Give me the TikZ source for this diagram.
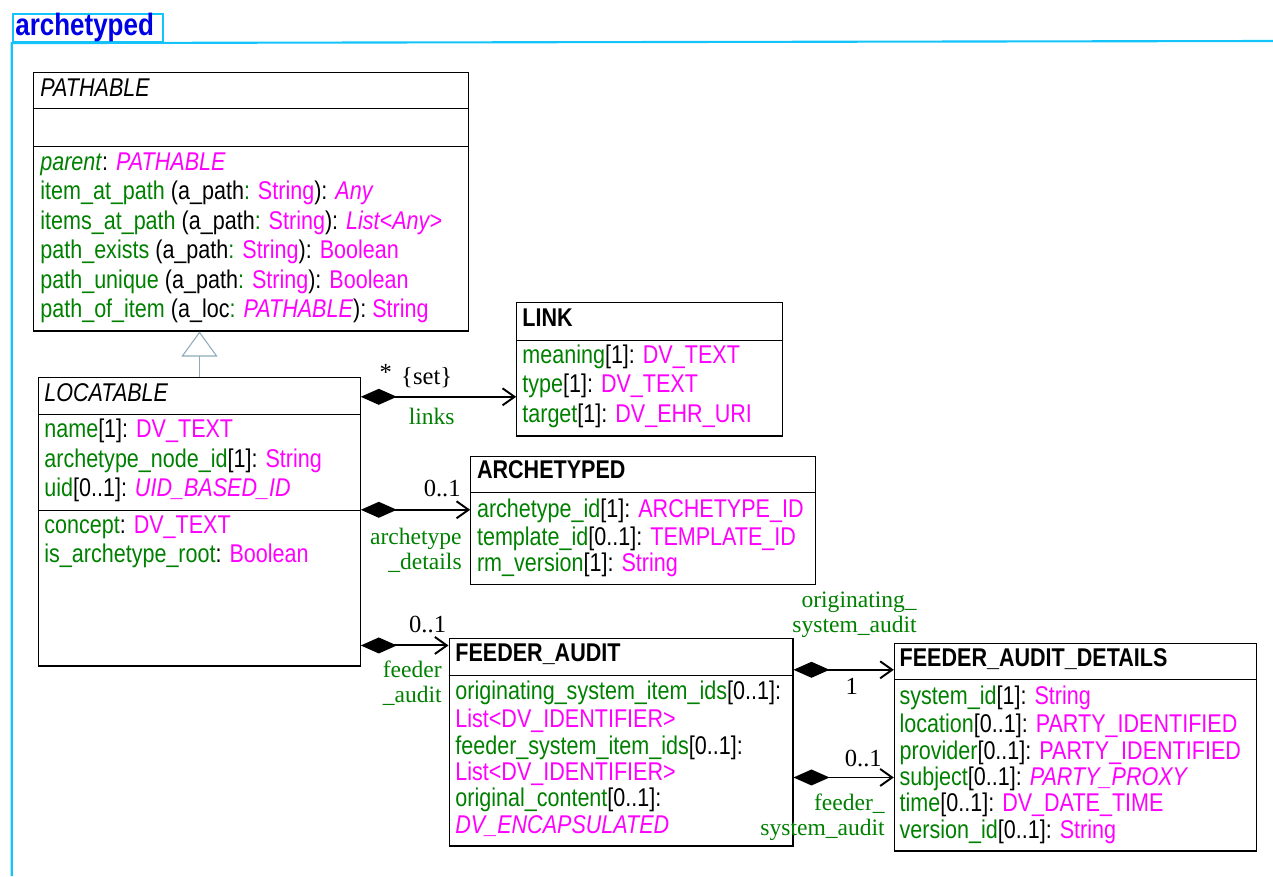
\documentclass[tikz,border=0pt]{standalone}
\usepackage{fontspec}
\setmainfont{Liberation Sans}
\newfontfamily\classfont{Liberation Sans}[FakeStretch=0.84]
\newfontfamily\rolefont{Liberation Serif}
\usetikzlibrary{arrows.meta}
\definecolor{featgreen}{RGB}{0,128,0}
\definecolor{typemagenta}{RGB}{255,0,255}
\definecolor{framecyan}{RGB}{20,195,250}
\definecolor{pkgblue}{RGB}{0,0,230}
\definecolor{inheritgrey}{RGB}{140,170,185}
\newcommand{\attrname}[1]{\textcolor{featgreen}{#1}}
\newcommand{\attrtype}[1]{\textcolor{typemagenta}{#1}}
\begin{document}
\begin{tikzpicture}
[x=0.02cm,y=-0.02cm,
  boxdecorate/.style={draw,line width=0.6pt,inner sep=0pt},%
  linedecorate/.style={line width=0.6pt},%
  wideattr/.style={anchor=north west,inner sep=0pt,align=left,font=\classfont\fontsize{14.6}{16.8}\selectfont},%
  tightattr/.style={anchor=north west,inner sep=0pt,align=left,font=\classfont\fontsize{14.6}{15}\selectfont},%
  roledecorate/.style={inner sep=0pt,align=right,text=featgreen,font=\rolefont\fontsize{13.4}{14.2}\selectfont},%
  multdecorate/.style={inner sep=0pt,font=\rolefont\fontsize{14}{15}\selectfont},%
  compositedecorate/.style={{Diamond[length=0.72cm,width=0.32cm]}-{Straight Barb[length=0.24cm,width=0.34cm]},line width=1.1pt},%
  inheritdecorate/.style={-{Triangle[open,length=0.5cm,width=0.72cm]},draw=inheritgrey,line width=0.6pt},%
  framedecorate/.style={draw=framecyan,line width=1.2pt}]
\useasboundingbox (0,0) rectangle (1273,876);
%%% package frame
\node[framedecorate,anchor=north west,inner sep=0pt,minimum width=3.012cm,minimum height=0.566cm] (pkg) at (11.7,12.7) {};
\node[anchor=base west,inner sep=0pt,text=pkgblue,font=\classfont\fontsize{17.6}{20}\selectfont\bfseries] (pkgname) at (15,35) {archetyped};
\draw[framedecorate] (11.7,876) -- (pkg.south west) -- (1273,41);
%
%%% classes
% boxes
\node[boxdecorate,minimum width=8.692cm,minimum height=5.174cm] (pathable) at (251,201.65) {};
\node[boxdecorate,minimum width=6.432cm,minimum height=5.774cm] (locatable) at (199.5,521.65) {};
\node[boxdecorate,minimum width=5.312cm,minimum height=2.666cm] (link) at (649.5,369.35) {};
\node[boxdecorate,minimum width=6.892cm,minimum height=2.552cm] (archetyped) at (643,520.5) {};
\node[boxdecorate,minimum width=6.88cm,minimum height=4.146cm] (feederaudit) at (621,742.35) {};
\node[boxdecorate,minimum width=7.248cm,minimum height=4.146cm] (feederdetails) at (1075.5,747.35) {};
% compartment lines
\draw[linedecorate] ([yshift=-0.74cm]pathable.north west) -- ([yshift=-0.74cm]pathable.north east);
\draw[linedecorate] ([yshift=-1.5cm]pathable.north west) -- ([yshift=-1.5cm]pathable.north east);
\draw[linedecorate] ([yshift=-0.76cm]locatable.north west) -- ([yshift=-0.76cm]locatable.north east);
\draw[linedecorate] ([yshift=-2.68cm]locatable.north west) -- ([yshift=-2.68cm]locatable.north east);
\draw[linedecorate] ([yshift=-0.76cm]link.north west) -- ([yshift=-0.76cm]link.north east);
\draw[linedecorate] ([yshift=-0.726cm]archetyped.north west) -- ([yshift=-0.726cm]archetyped.north east);
\draw[linedecorate] ([yshift=-0.74cm]feederaudit.north west) -- ([yshift=-0.74cm]feederaudit.north east);
\draw[linedecorate] ([yshift=-0.726cm]feederdetails.north west) -- ([yshift=-0.726cm]feederdetails.north east);
% texts
\node[wideattr] (pathablename) at (40,75.3) {\strut\textit{PATHABLE}};
\node[wideattr] (pathableops) at (40,149.3) {\strut\attrname{\textit{parent}}: \attrtype{\textit{PATHABLE}}\\
  \attrname{item\_at\_path} (a\_path\attrname{:} \attrtype{String}): \attrtype{\textit{Any}}\\
  \attrname{items\_at\_path} (a\_path\attrname{:} \attrtype{String}): \attrtype{\textit{List<Any>}}\\
  \attrname{path\_exists} (a\_path\attrname{:} \attrtype{String}): \attrtype{Boolean}\\
  \attrname{path\_unique} (a\_path\attrname{:} \attrtype{String}): \attrtype{Boolean}\\
  \attrname{path\_of\_item} (a\_loc\attrname{:} \attrtype{\textit{PATHABLE}}): \attrtype{String}};
\node[wideattr] (locatablename) at (44,380.3) {\strut\textit{LOCATABLE}};
\node[wideattr] (locatableattrs) at (44,416.8) {\strut\attrname{name}[1]: \attrtype{DV\_TEXT}\\
  \attrname{archetype\_node\_id}[1]: \attrtype{String}\\
  \attrname{uid}[0..1]: \attrtype{\textit{UID\_BASED\_ID}}};
\node[wideattr] (locatableops) at (44,512.3) {\strut\attrname{concept}: \attrtype{DV\_TEXT}\\
  \attrname{is\_archetype\_root}: \attrtype{Boolean}};
\node[wideattr] (linkname) at (522,305) {\strut\textbf{LINK}};
\node[wideattr] (linkattrs) at (522,342) {\strut\attrname{meaning}[1]: \attrtype{DV\_TEXT}\\
  \attrname{type}[1]: \attrtype{DV\_TEXT}\\
  \attrname{target}[1]: \attrtype{DV\_EHR\_URI}};
\node[tightattr] (archetypedname) at (476.7,459.5) {\strut\textbf{ARCHETYPED}};
\node[tightattr] (archetypedattrs) at (476.7,498.2) {\strut\attrname{archetype\_id}[1]: \attrtype{ARCHETYPE\_ID}\\
  \attrname{template\_id}[0..1]: \attrtype{TEMPLATE\_ID}\\
  \attrname{rm\_version}[1]: \attrtype{String}};
\node[tightattr] (feederauditname) at (455,642.5) {\strut\textbf{FEEDER\_AUDIT}};
\node[tightattr] (feederauditattrs) at (455,680.5) {\strut\attrname{originating\_system\_item\_ids}[0..1]:\\
  \attrtype{List<DV\_IDENTIFIER>}\\
  \attrname{feeder\_system\_item\_ids}[0..1]:\\
  \attrtype{List<DV\_IDENTIFIER>}\\
  \attrname{original\_content}[0..1]:\\
  \attrtype{\textit{DV\_ENCAPSULATED}}};
\node[tightattr] (feederdetailsname) at (899.3,647.5) {\strut\textbf{FEEDER\_AUDIT\_DETAILS}};
\node[tightattr] (feederdetailsattrs) at (899.3,685.5) {\strut\attrname{system\_id}[1]: \attrtype{String}\\
  \attrname{location}[0..1]: \attrtype{PARTY\_IDENTIFIED}\\
  \attrname{provider}[0..1]: \attrtype{PARTY\_IDENTIFIED}\\
  \attrname{subject}[0..1]: \attrtype{\textit{PARTY\_PROXY}}\\
  \attrname{time}[0..1]: \attrtype{DV\_DATE\_TIME}\\
  \attrname{version\_id}[0..1]: \attrtype{String}};
%
%%% relations
% inheritance
\draw[inheritdecorate] (locatable.north) -- (locatable.north |- pathable.south);
% compositions
\coordinate (linksfrom) at ([yshift=-0.4cm]locatable.north east);
\coordinate (detailsfrom) at ([yshift=-2.66cm]locatable.north east);
\coordinate (auditfrom) at ([yshift=-5.374cm]locatable.north east);
\coordinate (origfrom) at ([yshift=-0.632cm]feederaudit.north east);
\coordinate (feedfrom) at ([yshift=-2.786cm]feederaudit.north east);
\draw[compositedecorate] (linksfrom) -- (linksfrom -| link.west);
\draw[compositedecorate] (detailsfrom) -- (detailsfrom -| archetyped.west);
\draw[compositedecorate] (auditfrom) -- (auditfrom -| feederaudit.west);
\draw[compositedecorate] (origfrom) -- (origfrom -| feederdetails.west);
\draw[compositedecorate] (feedfrom) -- (feedfrom -| feederdetails.west);
% role names and multiplicities
\node[multdecorate] (linksmult) at (385.7,372.5) {*};
\node[multdecorate] (linksset) at (426.7,377.3) {\{set\}};
\node[roledecorate] (linksrole) at (431.7,416) {links};
\node[multdecorate,anchor=east] (detailsmult) at (461,488.3) {0..1};
\node[roledecorate,anchor=east] (detailsrole) at (462,550) {archetype\\\_details};
\node[multdecorate] (auditmult) at (427.6,624.3) {0..1};
\node[roledecorate,anchor=east] (auditrole) at (442,683) {feeder\\\_audit};
\node[roledecorate,anchor=east] (origrole) at (917,615.2) {originating\_\\system\_audit};
\node[multdecorate] (origmult) at (851.7,686) {1};
\node[multdecorate] (feedmult) at (863.3,758.3) {0..1};
\node[roledecorate,anchor=east] (feedrole) at (885,817) {feeder\_\\system\_audit};
\end{tikzpicture}
\end{document}
